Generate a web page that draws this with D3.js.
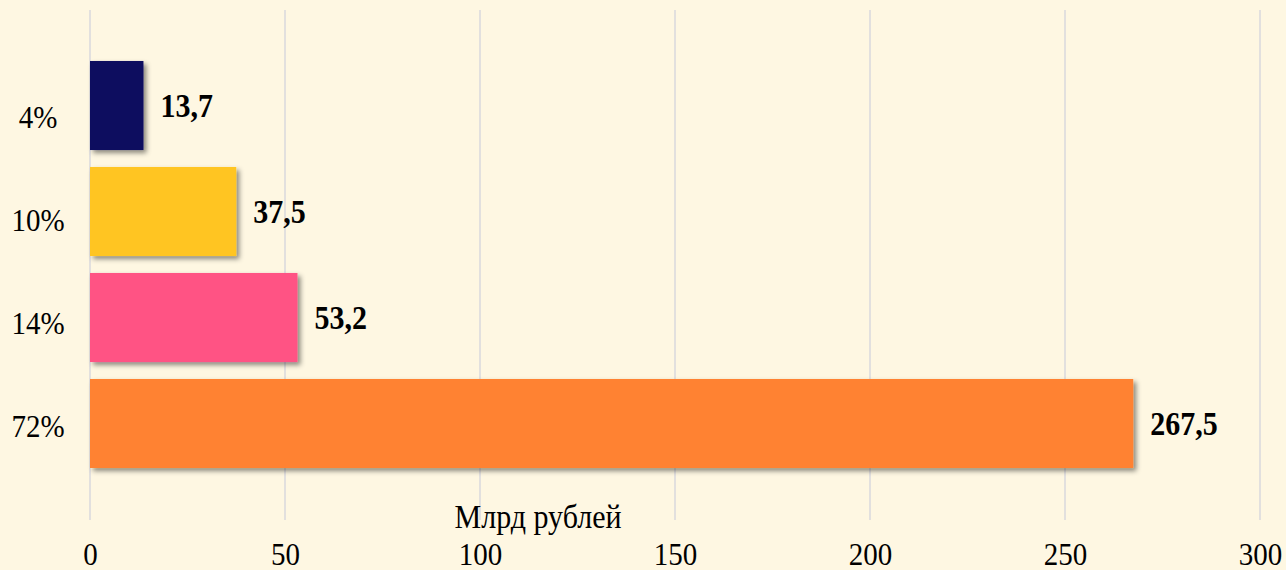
<!DOCTYPE html>
<html>
<head>
<meta charset="utf-8">
<script src="https://cdn.jsdelivr.net/npm/d3@7"></script>
<style>
  body { margin: 0; background: #fef7e2; }
  svg { display: block; font-family: "Liberation Serif", "Times New Roman", serif; }
</style>
</head>
<body>
<svg id="chart" width="1286" height="570"></svg>
<script>
// Chart data
var categories = ["4%", "10%", "14%", "72%"];
var values = [13.7, 37.5, 53.2, 267.5];
var valueLabels = ["13,7", "37,5", "53,2", "267,5"];
var colors = ["#0c085e", "#ffc520", "#ff5284", "#ff8230"];
var xTicks = [0, 50, 100, 150, 200, 250, 300];

var svg = d3.select("#chart");
var stretch = "scale(1,1.1)"; // the source text is slightly taller than plain Times

svg.append("rect")
    .attr("width", 1286)
    .attr("height", 570)
    .attr("fill", "#fef7e2");

// Shadow under the bars
var defs = svg.append("defs");
var filter = defs.append("filter")
    .attr("id", "shadow")
    .attr("x", "-10%").attr("y", "-20%")
    .attr("width", "130%").attr("height", "150%");
filter.append("feDropShadow")
    .attr("dx", 3)
    .attr("dy", 3)
    .attr("stdDeviation", 2.5)
    .attr("flood-color", "#000")
    .attr("flood-opacity", 0.45);

var x = d3.scaleLinear()
    .domain([0, 300])
    .range([90, 1260]);

var y = d3.scaleBand()
    .domain(categories)
    .range([52.5, 476.5])
    .paddingInner(0.16)
    .paddingOuter(0.08);

// category labels sit on a slightly tighter spacing than the bars
var yLabel = d3.scaleBand()
    .domain(categories)
    .range([67, 478]);

// Vertical gridlines
svg.append("g")
    .selectAll("line")
    .data(xTicks)
    .enter().append("line")
    .attr("x1", function(d) { return x(d); })
    .attr("x2", function(d) { return x(d); })
    .attr("y1", 10)
    .attr("y2", 520)
    .attr("stroke", "#d8d8dd")
    .attr("stroke-width", 1.5);

// Bars
svg.append("g")
    .selectAll("rect")
    .data(values)
    .enter().append("rect")
    .attr("x", x(0))
    .attr("y", function(d, i) { return y(categories[i]); })
    .attr("width", function(d) { return x(d) - x(0); })
    .attr("height", y.bandwidth())
    .attr("fill", function(d, i) { return colors[i]; })
    .attr("filter", "url(#shadow)");

// Value labels
svg.append("g")
    .selectAll("text")
    .data(values)
    .enter().append("text")
    .attr("transform", function(d, i) {
        var ty = y(categories[i]) + y.bandwidth() / 2 + 11;
        return "translate(" + (x(d) + 17) + "," + ty + ") " + stretch;
    })
    .attr("font-size", "30px")
    .attr("font-weight", "bold")
    .attr("fill", "#000")
    .text(function(d, i) { return valueLabels[i]; });

// Category labels (left)
var yAxis = svg.append("g")
    .attr("transform", "translate(48,0)")
    .call(d3.axisLeft(yLabel).tickSize(0).tickPadding(0));
yAxis.select(".domain").remove();
yAxis.selectAll("text")
    .attr("text-anchor", "middle")
    .attr("x", -10)
    .attr("dy", 9)
    .attr("transform", stretch)
    .attr("font-family", "Liberation Serif, serif")
    .attr("font-size", "29px")
    .attr("fill", "#000");

// X axis tick labels
var xAxis = svg.append("g")
    .attr("transform", "translate(0,565)")
    .call(d3.axisBottom(x).tickValues(xTicks).tickSize(0).tickPadding(0));
xAxis.select(".domain").remove();
xAxis.selectAll("text")
    .attr("y", 0)
    .attr("dy", 0)
    .attr("transform", stretch)
    .attr("font-family", "Liberation Serif, serif")
    .attr("font-size", "29px")
    .attr("fill", "#000");

// Axis title
svg.append("text")
    .attr("transform", "translate(538,528) " + stretch)
    .attr("text-anchor", "middle")
    .attr("font-size", "30px")
    .attr("fill", "#000")
    .text("Млрд рублей");
</script>
</body>
</html>
